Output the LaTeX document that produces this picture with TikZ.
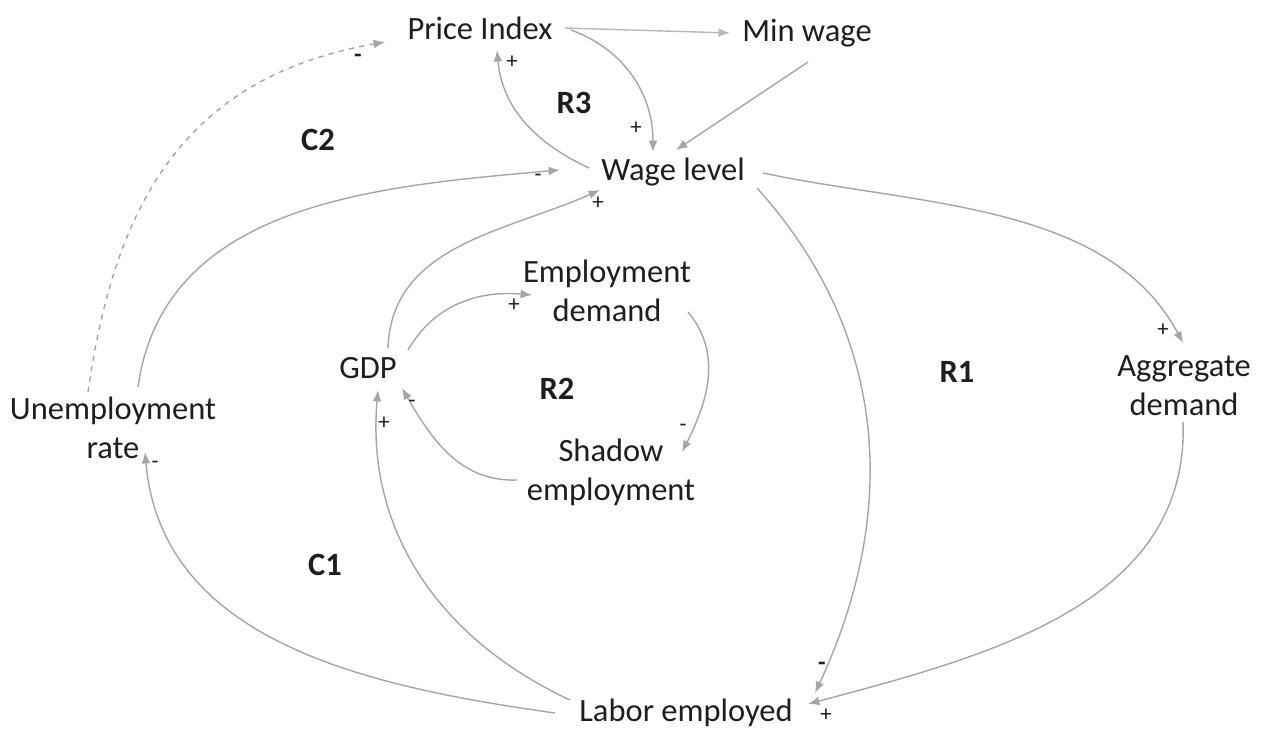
\documentclass[tikz,border=0pt]{standalone}
\usepackage{fontspec}
\setmainfont{Carlito}
\usetikzlibrary{arrows.meta,calc}
\definecolor{linkgray}{RGB}{165,165,165}
\definecolor{inkgray}{RGB}{30,30,30}

\begin{document}
\begin{tikzpicture}[->,>={Latex[length=6.5pt,width=5pt]},x=0.02cm,y=0.02cm,
                    line width=0.8pt,draw=linkgray]
  \tikzstyle{var}=[text=inkgray,align=center,font=\fontsize{18.5}{22.2}\selectfont]
  \tikzstyle{loop}=[text=inkgray,font=\fontsize{18.5}{22.2}\selectfont\bfseries]
  \tikzstyle{sign}=[at end,text=inkgray,inner sep=0pt,font=\fontsize{13}{15}\selectfont]
  \tikzstyle{bsign}=[sign,font=\fontsize{14}{16}\selectfont\bfseries]
  \useasboundingbox (0,0) rectangle (1263,-731);

  \node[var] (pi)  at (480,-28)  {Price Index};
  \node[var] (mw)  at (807,-33)  {Min wage};
  \node[var] (wl)  at (673,-172) {Wage level};
  \node[var] (ed)  at (607,-291) {Employment\\demand};
  \node[var] (gdp) at (368,-368) {GDP};
  \node[var] (ur)  at (113,-428) {Unemployment\\rate};
  \node[var] (ad)  at (1184,-386) {Aggregate\\demand};
  \node[var] (se)  at (611,-472) {Shadow\\employment};
  \node[var] (le)  at (686,-713) {Labor employed};

  \node[loop] (r3) at (574,-103) {R3};
  \node[loop] (c2) at (318,-140) {C2};
  \node[loop] (r2) at (557,-389) {R2};
  \node[loop] (r1) at (957,-372) {R1};
  \node[loop] (c1) at (325,-565) {C1};

  \path ($(pi)+(85,0)$) edge [draw=linkgray!80] ($(mw)+(-77,0)$)
        ($(pi)+(91,-2)$) edge [out=-20,in=90] node[sign,shift={(-17,24)}] {+} ($(wl)+(-20,20)$)
        ($(mw)+(1,-29)$) edge ($(wl)+(3,22)$)
        ($(wl)+(-84,4)$) edge [out=155,in=-85] node[sign,shift={(15,-12)}] {+} ($(pi)+(17,-22)$)
        ($(ur)+(-25,36)$) edge [dashed,out=82,in=190,looseness=1.1] node[bsign,shift={(-27,-16)}] {-} ($(pi)+(-95,-14)$)
        ($(ur)+(25,41)$) edge [out=82,in=185] node[sign,shift={(-22,-8)}] {-} ($(wl)+(-113,2)$)
        ($(gdp)+(20,20)$) edge [out=88,in=204] node[sign,shift={(-2,-13)}] {+} ($(wl)+(-73,-18)$)
        ($(gdp)+(40,18)$) edge [out=60,in=175] node[sign,shift={(-18,-10)}] {+} ($(ed)+(-75,-4)$)
        ($(ed)+(81,-21)$) edge [out=-50,in=63] node[sign,shift={(1,24)}] {-} ($(se)+(71,20)$)
        ($(se)+(-94,-8)$) edge [out=182,in=-60] node[sign,shift={(10,-16)}] {-} ($(gdp)+(34,-20)$)
        ($(le)+(-116,13)$) edge [out=155,in=-95] node[sign,shift={(6,-33)}] {+} ($(gdp)+(10,-22)$)
        ($(le)+(-131,0)$) edge [out=172,in=-85] node[sign,shift={(10,-13)}] {-} ($(ur)+(32,-24)$)
        ($(wl)+(84,-16)$) edge [out=-48,in=65] node[bsign,shift={(7,27)}] {-} ($(le)+(129,20)$)
        ($(wl)+(90,-1)$) edge [out=-12,in=118,looseness=0.9] node[sign,shift={(-20,13)}] {+} ($(ad)+(-1,43)$)
        ($(ad)+(-1,-36)$) edge [out=-88,in=15] node[sign,shift={(18,-11)}] {+} ($(le)+(122,9)$);
\end{tikzpicture}
\end{document}
